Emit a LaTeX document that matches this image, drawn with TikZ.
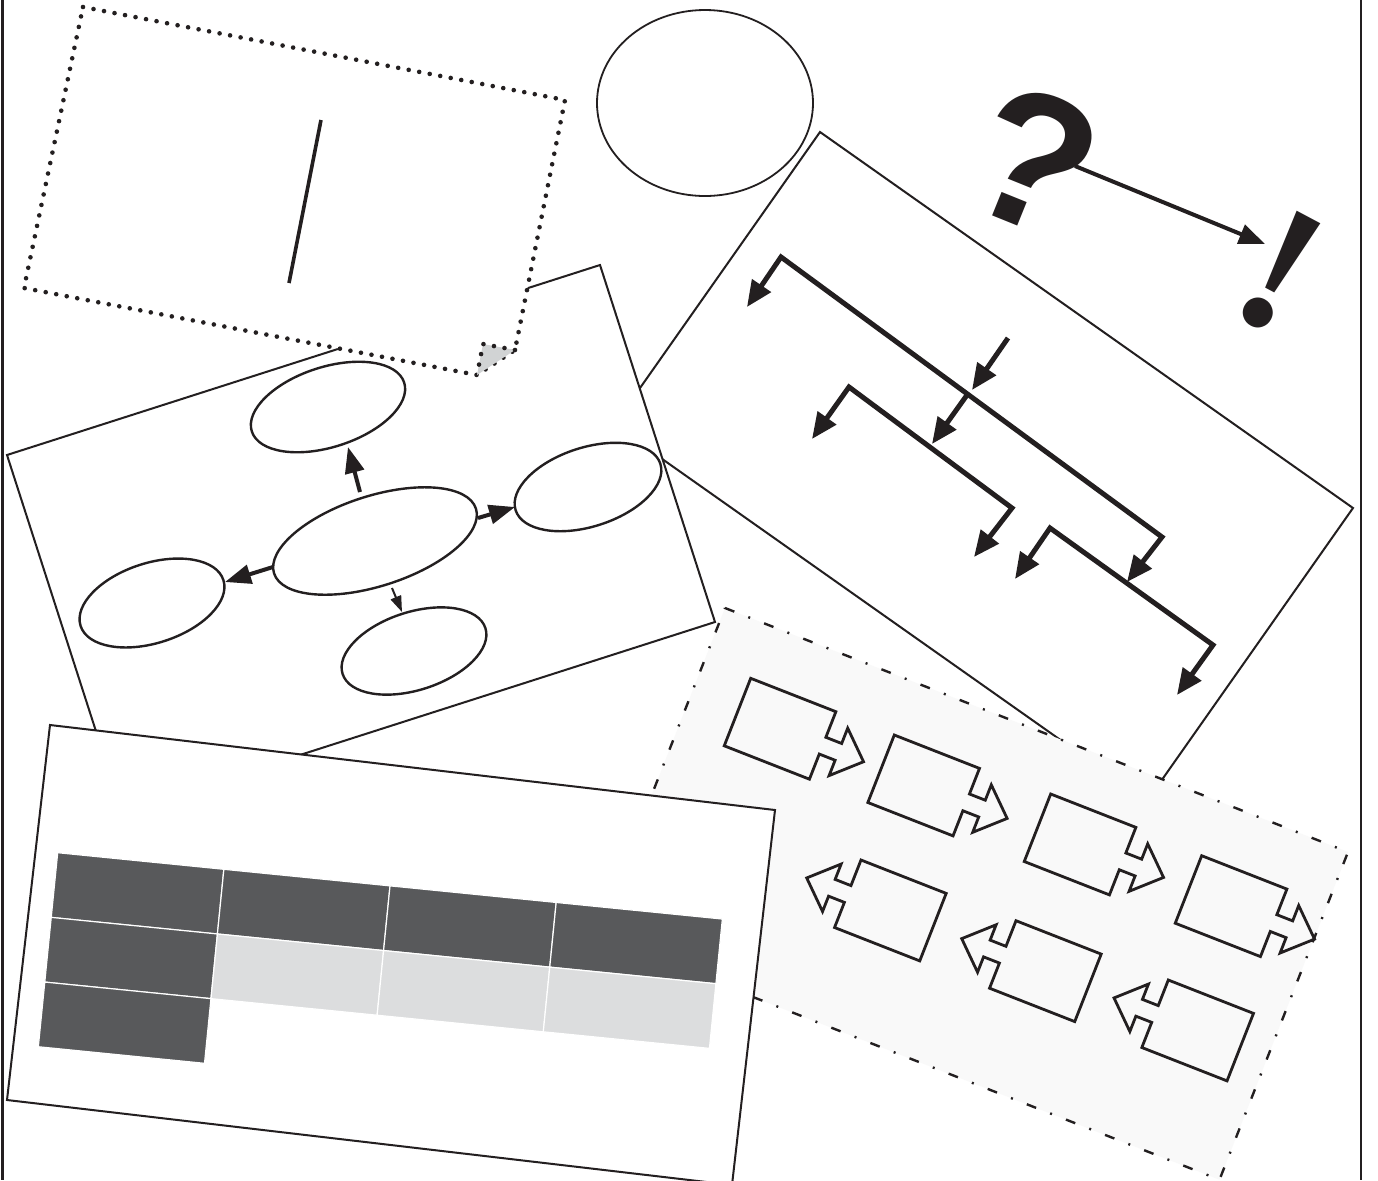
\documentclass[tikz,border=0pt]{standalone}
\usepackage{fontspec}
\newfontfamily\symfont{Liberation Sans}
\newfontfamily\bangfont{Liberation Serif}
\usetikzlibrary{arrows.meta,shapes.geometric}
\definecolor{ink}{HTML}{231F20}
\definecolor{darkcell}{HTML}{58595B}
\definecolor{lightcell}{HTML}{DCDDDE}
\definecolor{foldgrey}{HTML}{D1D3D4}
\definecolor{regionfill}{HTML}{F9F9F9}
\tikzset{
  treetip/.tip={Triangle[length=13pt,width=11pt]},
  mmtip/.tip={Triangle[length=13pt,width=9.5pt]},
  smalltip/.tip={Triangle[length=8pt,width=5.5pt]},
  qtip/.tip={Triangle[length=13pt,width=10pt]},
  paper/.style={draw=ink, fill=white, line width=1pt, line join=miter},
  dotline/.style={draw=ink, line width=2.3pt, line cap=round, dash pattern=on 0pt off 5.35pt},
  mm/.style={ellipse, draw=ink, line width=1.2pt, inner sep=0pt, rotate=17.8, fill=white},
  mmarrow/.style={draw=ink, line width=2pt, -mmtip},
  thinarrow/.style={draw=ink, line width=1pt, -smalltip},
  treeline/.style={draw=ink, line width=2.5pt, line join=miter},
  boxline/.style={draw=ink, line width=1.4pt, line join=miter},
  cellstyle/.style={draw=white, line width=0.6pt},
  rbox/.pic={\draw[boxline] (0,0) -- (91.5,0) -- (91.5,27.5) -- (108.5,27.5) -- (108.5,11) -- (135.5,36.5) -- (108.5,62) -- (108.5,45.5) -- (91.5,45.5) -- (91.5,72.5) -- (0,72.5) -- cycle;},
  lbox/.pic={\draw[boxline] (0,0) -- (91.5,0) -- (91.5,72.5) -- (0,72.5) -- (0,45.5) -- (-17,45.5) -- (-17,62) -- (-44,36.5) -- (-17,11) -- (-17,27.5) -- (0,27.5) -- cycle;}
}
\begin{document}
\begin{tikzpicture}[x=0.5pt,y=-0.5pt]
\useasboundingbox (0,0) rectangle (1378,1180);
\fill[white] (0,0) rectangle (1378,1180);
% frame sides
\draw[ink, line width=1.4pt] (2.7,0) -- (2.7,1180);
\draw[ink, line width=1.4pt] (1361,0) -- (1361,1180);

% circle
\node[ellipse, draw=ink, line width=0.9pt, minimum width=108pt, minimum height=93pt, inner sep=0pt] (circ) at (705,103) {};

% tree paper
\draw[paper] (820,132) -- (1353,508) -- (1147,801) -- (614,425) -- cycle;
\coordinate (t1) at (747,307);
\coordinate (c1) at (781,257);
\coordinate (c2) at (1162,537);
\coordinate (t2) at (1127,582);
\coordinate (t3) at (812,439);
\coordinate (c3) at (849,387);
\coordinate (c4) at (1012,508);
\coordinate (t4) at (974,557);
\coordinate (t5) at (1015,579);
\coordinate (c5) at (1050,528);
\coordinate (c6) at (1213,645);
\coordinate (t6) at (1177,695);
\coordinate (s7) at (1008,338);
\coordinate (t7) at (972,390);
\coordinate (s8) at (967,395);
\coordinate (t8) at (932,444);
\draw[treeline, treetip-treetip] (t1) -- (c1) -- (c2) -- (t2);
\draw[treeline, treetip-treetip] (t3) -- (c3) -- (c4) -- (t4);
\draw[treeline, treetip-treetip] (t5) -- (c5) -- (c6) -- (t6);
\draw[treeline, -treetip] (s7) -- (t7);
\draw[treeline, -treetip] (s8) -- (t8);

% dash-dot region
\draw[draw=ink, fill=regionfill, line width=1.2pt, dash pattern=on 5pt off 7.5pt on 1pt off 7.5pt]
  (725,608) -- (1348,852) -- (1219.5,1179.7) -- (596.5,935.7) -- cycle;
\pic[rotate=-21.4] at (750.7,678.3) {rbox};
\pic[rotate=-21.4] at (894.3,735) {rbox};
\pic[rotate=-21.4] at (1050.7,794) {rbox};
\pic[rotate=-21.4] at (1201.7,855.7) {rbox};
\pic[rotate=-21.4] at (861,860) {lbox};
\pic[rotate=-21.4] at (1016,920.7) {lbox};
\pic[rotate=-21.4] at (1168.3,980) {lbox};

% mind map paper
\draw[paper] (7,455) -- (600,265) -- (715,622) -- (122,812) -- cycle;
\node[mm, minimum width=106pt, minimum height=45pt] (mc) at (375,541) {};
\node[mm, minimum width=80pt, minimum height=40pt] (mt) at (328,407) {};
\node[mm, minimum width=76pt, minimum height=39.5pt] (mr) at (588,487) {};
\node[mm, minimum width=75pt, minimum height=40pt] (ml) at (152,603) {};
\node[mm, minimum width=75pt, minimum height=39pt] (mb) at (414,651) {};
\coordinate (a1) at (360,492);
\coordinate (b1) at (348,447);
\coordinate (a2) at (478,518);
\coordinate (b2) at (515,507);
\coordinate (a3) at (273,567);
\coordinate (b3) at (225,582);
\coordinate (a4) at (392,588);
\coordinate (b4) at (402,612);
\draw[mmarrow] (a1) -- (b1);
\draw[mmarrow] (a2) -- (b2);
\draw[mmarrow] (a3) -- (b3);
\draw[thinarrow] (a4) -- (b4);

% table paper
\draw[paper] (50,725) -- (775,810) -- (732,1185) -- (7,1100) -- cycle;
\begin{scope}[shift={(57.7,852.7)}, rotate=-5.7]
  \foreach \c in {0,1,2,3} {
    \filldraw[cellstyle, fill=darkcell] (\c*167,0) rectangle ({(\c+1)*167},65);
  }
  \filldraw[cellstyle, fill=darkcell] (0,65) rectangle (167,130);
  \foreach \c in {1,2,3} {
    \filldraw[cellstyle, fill=lightcell] (\c*167,65) rectangle ({(\c+1)*167},130);
  }
  \filldraw[cellstyle, fill=darkcell] (0,130) rectangle (167,195);
\end{scope}

% dotted paper
\fill[white] (83,7) -- (565,100) -- (515,350) -- (477,375) -- (24,288) -- cycle;
\draw[dotline] (83,7) -- (565,100) -- (515,350) -- (477,375) -- (24,288) -- cycle;
\fill[foldgrey] (515,350) -- (483,344) -- (477,375) -- cycle;
\draw[dotline] (515,350) -- (483,344) -- (477,375);
\draw[ink, line width=1.8pt] (321,120) -- (289,283);

% question / exclamation
\node[font=\symfont\bfseries\fontsize{96}{96}\selectfont, text=ink, rotate=-22, inner sep=0pt] (q) at (1034,160) {?};
\node[font=\bangfont\bfseries\fontsize{92}{92}\selectfont, text=ink, rotate=-28, inner sep=0pt] (ex) at (1280,272) {!};
\coordinate (qa) at (1075,166);
\coordinate (eb) at (1265,244);
\draw[ink, line width=2pt, -qtip] (qa) -- (eb);
\end{tikzpicture}
\end{document}
